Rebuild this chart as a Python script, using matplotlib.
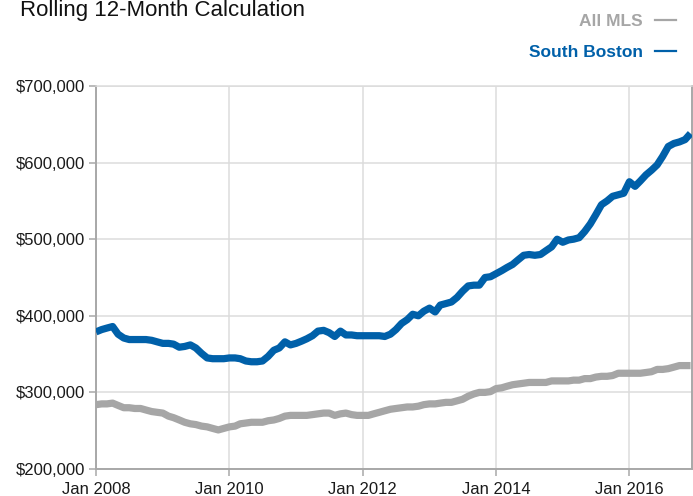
import numpy as np
import pandas as pd
import matplotlib
matplotlib.use("Agg")
import matplotlib.pyplot as plt
import matplotlib.dates as mdates

# monthly values, Jan 2008 .. Dec 2016, in $1000
months = pd.date_range("2008-01-01", "2016-12-01", freq="MS")

south_boston = [
    379, 382, 384, 386, 376, 371, 369, 369, 369, 369, 368, 366,
    364, 364, 363, 359, 360, 362, 358, 351, 345, 344, 344, 344,
    345, 345, 344, 341, 340, 340, 341, 347, 355, 358, 366, 362,
    364, 367, 370, 374, 380, 381, 378, 373, 380, 375, 375, 374,
    374, 374, 374, 374, 373, 376, 382, 390, 395, 402, 400, 406,
    410, 405, 414, 416, 418, 424, 432, 439, 440, 440, 450, 451,
    455, 459, 463, 467, 473, 479, 480, 479, 480, 485, 490, 500,
    496, 499, 500, 502, 510, 520, 532, 545, 550, 556, 558, 560,
    575, 569, 576, 584, 590, 597, 608, 621, 625, 627, 630, 638,
]
all_mls = [
    284, 285, 285, 286, 283, 280, 280, 279, 279, 277, 275, 274,
    273, 269, 267, 264, 261, 259, 258, 256, 255, 253, 251, 253,
    255, 256, 259, 260, 261, 261, 261, 263, 264, 266, 269, 270,
    270, 270, 270, 271, 272, 273, 273, 270, 272, 273, 271, 270,
    270, 270, 272, 274, 276, 278, 279, 280, 281, 281, 282, 284,
    285, 285, 286, 287, 287, 289, 291, 295, 298, 300, 300, 301,
    305, 306, 308, 310, 311, 312, 313, 313, 313, 313, 315, 315,
    315, 315, 316, 316, 318, 318, 320, 321, 321, 322, 325, 325,
    325, 325, 325, 326, 327, 330, 330, 331, 333, 335, 335, 335,
]

y_ticks = [200000, 300000, 400000, 500000, 600000, 700000]
x_ticks = pd.to_datetime(["2008-01-01", "2010-01-01", "2012-01-01", "2014-01-01", "2016-01-01"])

BLUE = "#0060a9"
GRAY = "#a6a6a6"
FONT = "Liberation Sans"

fig = plt.figure(figsize=(6.93, 4.96), dpi=100)
ax = fig.add_axes([96 / 693, 1 - 469 / 496, 596 / 693, 383 / 496])

ax.plot(months, np.array(all_mls) * 1000, color=GRAY, lw=5.2,
        solid_joinstyle="round", solid_capstyle="butt", zorder=3)
ax.plot(months, np.array(south_boston) * 1000, color=BLUE, lw=5.2,
        solid_joinstyle="round", solid_capstyle="butt", zorder=4)

ax.set_ylim(200000, 700000)
ax.set_xlim(months[0], months[-1] + pd.Timedelta(days=8))
ax.set_yticks(y_ticks)
ax.set_yticklabels(["${:,}".format(v) for v in y_ticks])
ax.set_xticks(x_ticks)
ax.xaxis.set_major_formatter(mdates.DateFormatter("Jan %Y"))

ax.grid(True, color="#dcdcdc", lw=1.1, zorder=0)
for side in ["left", "bottom", "right"]:
    ax.spines[side].set_color("#a8a8a8")
    ax.spines[side].set_linewidth(1.4)
ax.spines["top"].set_color("#dcdcdc")
ax.spines["top"].set_linewidth(1.1)
ax.tick_params(axis="both", colors="#a8a8a8", length=5, width=1.1,
               labelcolor="#1a1a1a", labelsize=12)
ax.tick_params(axis="x", pad=4)
ax.tick_params(axis="y", pad=3)
for lab in ax.get_xticklabels() + ax.get_yticklabels():
    lab.set_family(FONT)

fig.text(20 / 693, 1 - 16 / 496, "Rolling 12-Month Calculation", family=FONT,
         fontsize=16, color="#111111", ha="left", va="baseline")

fig.text(643 / 693, 1 - 26 / 496, "All MLS", family=FONT, fontweight="bold",
         fontsize=12.5, color=GRAY, ha="right", va="baseline")
fig.text(643 / 693, 1 - 57 / 496, "South Boston", family=FONT, fontweight="bold",
         fontsize=12.5, color=BLUE, ha="right", va="baseline")
fig.add_artist(plt.Line2D([655 / 693, 676 / 693], [1 - 20 / 496, 1 - 20 / 496],
                          color=GRAY, lw=1.6))
fig.add_artist(plt.Line2D([655 / 693, 676 / 693], [1 - 51 / 496, 1 - 51 / 496],
                          color=BLUE, lw=1.6))

fig.savefig("out.png", dpi=100)
